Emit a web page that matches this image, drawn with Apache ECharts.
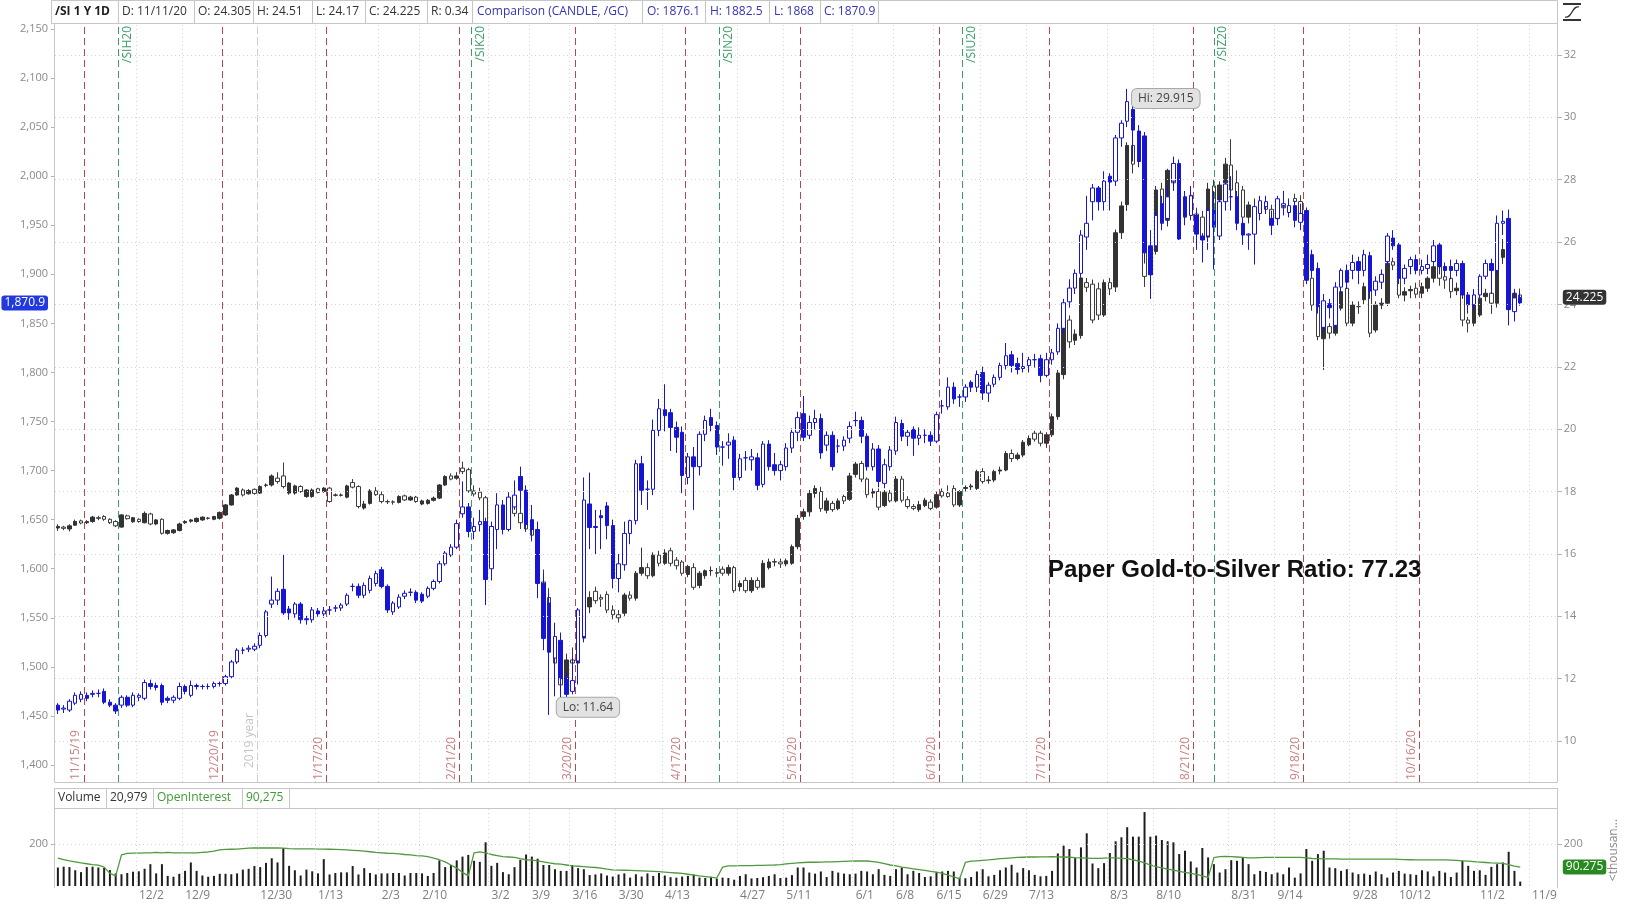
<!DOCTYPE html>
<html><head><meta charset="utf-8">
<script src="https://cdn.jsdelivr.net/npm/echarts@6/dist/echarts.min.js"></script>
<style>html,body{margin:0;padding:0;background:#fff;}#c{width:1625px;height:909px;}</style>
</head><body><div id="c"></div>
<script>
// ---------- DATA ----------
const dates = [
'11/11/19','11/12/19','11/13/19','11/14/19','11/15/19','11/18/19','11/19/19','11/20/19','11/21/19','11/22/19','11/25/19','11/26/19','11/27/19','11/29/19',
'12/2/19','12/3/19','12/4/19','12/5/19','12/6/19','12/9/19','12/10/19','12/11/19','12/12/19','12/13/19','12/16/19','12/17/19','12/18/19','12/19/19','12/20/19','12/23/19','12/24/19','12/26/19','12/27/19','12/30/19','12/31/19',
'1/2/20','1/3/20','1/6/20','1/7/20','1/8/20','1/9/20','1/10/20','1/13/20','1/14/20','1/15/20','1/16/20','1/17/20','1/21/20','1/22/20','1/23/20','1/24/20','1/27/20','1/28/20','1/29/20','1/30/20','1/31/20',
'2/3/20','2/4/20','2/5/20','2/6/20','2/7/20','2/10/20','2/11/20','2/12/20','2/13/20','2/14/20','2/18/20','2/19/20','2/20/20','2/21/20','2/24/20','2/25/20','2/26/20','2/27/20','2/28/20',
'3/2/20','3/3/20','3/4/20','3/5/20','3/6/20','3/9/20','3/10/20','3/11/20','3/12/20','3/13/20','3/16/20','3/17/20','3/18/20','3/19/20','3/20/20','3/23/20','3/24/20','3/25/20','3/26/20','3/27/20','3/30/20','3/31/20',
'4/1/20','4/2/20','4/3/20','4/6/20','4/7/20','4/8/20','4/9/20','4/13/20','4/14/20','4/15/20','4/16/20','4/17/20','4/20/20','4/21/20','4/22/20','4/23/20','4/24/20','4/27/20','4/28/20','4/29/20','4/30/20',
'5/1/20','5/4/20','5/5/20','5/6/20','5/7/20','5/8/20','5/11/20','5/12/20','5/13/20','5/14/20','5/15/20','5/18/20','5/19/20','5/20/20','5/21/20','5/22/20','5/26/20','5/27/20','5/28/20','5/29/20',
'6/1/20','6/2/20','6/3/20','6/4/20','6/5/20','6/8/20','6/9/20','6/10/20','6/11/20','6/12/20','6/15/20','6/16/20','6/17/20','6/18/20','6/19/20','6/22/20','6/23/20','6/24/20','6/25/20','6/26/20','6/29/20','6/30/20',
'7/1/20','7/2/20','7/6/20','7/7/20','7/8/20','7/9/20','7/10/20','7/13/20','7/14/20','7/15/20','7/16/20','7/17/20','7/20/20','7/21/20','7/22/20','7/23/20','7/24/20','7/27/20','7/28/20','7/29/20','7/30/20','7/31/20',
'8/3/20','8/4/20','8/5/20','8/6/20','8/7/20','8/10/20','8/11/20','8/12/20','8/13/20','8/14/20','8/17/20','8/18/20','8/19/20','8/20/20','8/21/20','8/24/20','8/25/20','8/26/20','8/27/20','8/28/20','8/31/20',
'9/1/20','9/2/20','9/3/20','9/4/20','9/8/20','9/9/20','9/10/20','9/11/20','9/14/20','9/15/20','9/16/20','9/17/20','9/18/20','9/21/20','9/22/20','9/23/20','9/24/20','9/25/20','9/28/20','9/29/20','9/30/20',
'10/1/20','10/2/20','10/5/20','10/6/20','10/7/20','10/8/20','10/9/20','10/12/20','10/13/20','10/14/20','10/15/20','10/16/20','10/19/20','10/20/20','10/21/20','10/22/20','10/23/20','10/26/20','10/27/20','10/28/20','10/29/20','10/30/20',
'11/2/20','11/3/20','11/4/20','11/5/20','11/6/20','11/9/20','11/10/20','11/11/20'
];
// /SI silver  [open, high, low, close]
const silver = [
[16.83,16.95,16.74,16.88],[16.86,16.90,16.76,16.82],[16.80,16.95,16.72,16.90],[16.92,17.10,16.90,17.04],[17.06,17.10,16.95,16.99],
[17.00,17.08,16.96,17.04],[17.04,17.22,17.00,17.18],[17.16,17.22,17.08,17.14],[17.20,17.24,17.06,17.11],[17.11,17.14,16.96,17.00],
[17.04,17.08,16.86,16.90],[16.86,17.28,16.84,17.25],[17.22,17.26,17.10,17.13],[17.03,17.18,17.00,17.16],[17.11,17.14,17.00,17.04],
[17.00,17.36,16.98,17.30],[17.28,17.32,16.92,16.96],[16.96,17.12,16.92,17.09],[17.11,17.14,16.62,16.66],[16.66,16.78,16.62,16.75],
[16.68,16.80,16.64,16.77],[16.75,17.00,16.72,16.96],[17.00,17.08,16.96,17.04],[17.05,17.12,17.00,17.09],[17.04,17.17,17.00,17.14],
[17.09,17.20,17.06,17.18],[17.15,17.18,17.10,17.14],[17.11,17.22,17.08,17.20],[17.14,17.36,17.10,17.33],[17.25,17.60,17.22,17.57],
[17.57,17.92,17.55,17.89],[17.89,18.14,17.86,18.11],[18.05,18.10,17.84,17.89],[17.93,18.08,17.90,18.03],[18.07,18.10,17.90,17.94],
[17.95,18.20,17.92,18.16],[18.20,18.26,18.14,18.21],[18.21,18.55,18.16,18.50],[18.43,18.62,18.25,18.32],[18.50,18.93,18.10,18.16],
[17.95,18.30,17.90,18.27],[17.95,18.22,17.90,18.18],[18.16,18.20,17.96,18.00],[17.84,18.08,17.80,18.05],[17.84,18.10,17.80,18.05],
[18.09,18.12,17.94,17.97],[18.00,18.14,17.96,18.11],[18.11,18.14,17.64,17.68],[17.88,17.94,17.84,17.89],[17.88,17.94,17.84,17.89],
[17.82,18.22,17.78,18.18],[18.29,18.40,18.10,18.14],[18.16,18.20,17.46,17.52],[17.47,17.70,17.42,17.60],[17.62,18.08,17.58,18.02],
[18.02,18.14,17.86,17.90],[17.90,18.00,17.62,17.68],[17.68,17.74,17.60,17.67],[17.67,17.72,17.58,17.66],[17.65,17.88,17.62,17.84],
[17.86,17.90,17.70,17.73],[17.73,17.86,17.70,17.82],[17.82,17.86,17.64,17.68],[17.60,17.74,17.56,17.70],[17.62,17.76,17.58,17.72],
[17.72,17.84,17.68,17.79],[17.79,18.24,17.76,18.21],[18.21,18.52,18.18,18.48],[18.50,18.58,18.36,18.40],[18.43,18.62,18.38,18.50],
[18.75,18.96,18.56,18.64],[18.70,18.76,17.96,18.02],[18.02,18.20,17.84,17.92],[17.98,18.12,17.72,17.80],[17.80,17.86,16.30,16.50],
[16.50,17.00,16.40,16.88],[16.88,17.40,16.80,17.30],[17.30,17.40,17.00,17.10],[17.10,17.70,17.05,17.55],[17.55,17.86,17.20,17.30],
[17.30,17.94,16.80,17.00],[17.00,17.30,16.70,16.80],[16.80,16.90,16.40,16.60],[16.60,16.70,14.90,15.10],[15.10,15.50,14.40,14.60],
[14.60,14.90,12.80,13.00],[13.00,13.30,12.20,12.50],[12.50,12.70,11.64,11.80],[11.80,12.80,11.70,12.60],[12.60,13.00,12.10,12.50],
[12.50,13.40,12.30,13.30],[13.30,14.40,13.20,14.30],[14.30,14.80,14.10,14.60],[14.80,14.95,14.40,14.50],[14.60,14.70,14.30,14.55],
[14.70,14.80,14.10,14.20],[14.20,14.35,13.90,14.05],[14.05,14.20,13.80,13.95],[14.10,14.75,14.00,14.68],[14.68,14.80,14.50,14.58],
[14.58,15.45,14.50,15.38],[15.38,16.20,15.30,15.56],[15.56,15.70,15.20,15.30],[15.30,16.05,15.25,15.96],[15.96,16.10,15.60,15.70],
[15.70,16.15,15.65,16.03],[16.10,16.20,15.60,15.70],[15.80,15.90,15.50,15.62],[15.74,15.80,15.30,15.38],[15.34,15.65,15.25,15.60],
[15.56,15.70,14.85,14.93],[14.99,15.45,14.90,15.38],[15.30,15.50,15.20,15.46],[15.46,15.60,15.30,15.47],[15.40,15.55,15.25,15.38],
[15.51,15.60,15.30,15.38],[15.38,15.65,15.30,15.56],[15.56,15.62,14.75,14.82],[14.95,15.15,14.80,15.05],[15.15,15.25,14.75,14.82],
[14.82,15.25,14.75,15.15],[15.15,15.25,14.85,14.93],[14.93,15.80,14.90,15.70],[15.56,15.85,15.50,15.74],[15.74,15.85,15.60,15.75],
[15.74,15.85,15.55,15.68],[15.68,15.85,15.60,15.78],[15.70,16.30,15.65,16.23],[16.23,17.25,16.15,17.14],[17.20,17.45,17.10,17.35],
[17.35,18.05,17.20,17.94],[17.94,18.20,17.80,18.10],[18.00,18.15,17.35,17.45],[17.40,17.80,17.30,17.70],[17.62,17.70,17.35,17.42],
[17.45,17.78,17.40,17.70],[17.84,17.90,17.60,17.70],[17.75,18.60,17.70,18.50],[18.55,18.95,18.45,18.88],[18.90,18.98,18.30,18.40],
[18.40,18.45,17.80,17.90],[17.95,18.10,17.80,18.00],[18.00,18.10,17.40,17.50],[17.55,18.05,17.50,17.98],[17.95,18.05,17.65,17.70],
[17.70,18.50,17.65,18.40],[18.40,18.50,17.65,17.72],[17.74,17.85,17.45,17.52],[17.52,17.60,17.40,17.46],[17.42,17.70,17.35,17.58],
[17.55,17.80,17.50,17.72],[17.66,17.75,17.40,17.46],[17.50,18.00,17.45,17.90],[18.00,18.10,17.80,17.86],[17.95,18.20,17.80,17.84],
[18.10,18.20,17.50,17.57],[17.57,18.05,17.50,18.00],[18.10,18.20,18.00,18.13],[18.15,18.25,18.05,18.18],[18.10,18.70,18.05,18.64],
[18.64,18.75,18.25,18.32],[18.35,18.50,18.25,18.37],[18.37,18.70,18.30,18.64],[18.66,18.80,18.55,18.69],[18.69,19.30,18.65,19.22],
[19.22,19.35,18.95,19.06],[19.06,19.25,19.00,19.17],[19.17,19.65,19.10,19.58],[19.50,19.80,19.45,19.70],[19.87,19.95,19.60,19.68],
[19.87,19.95,19.45,19.55],[19.55,19.90,19.40,19.82],[19.82,20.50,19.75,20.40],[20.40,21.90,20.30,21.80],[21.75,23.50,21.60,23.45],
[23.50,23.65,22.60,22.80],[22.85,23.20,22.70,23.05],[23.00,24.95,22.90,24.85],[24.70,24.85,24.40,24.55],[24.65,24.80,23.40,23.50],
[24.50,24.70,23.50,23.66],[23.66,24.80,23.60,24.70],[24.70,24.85,24.30,24.50],[24.56,26.40,24.40,26.30],[26.30,27.30,26.10,27.16],
[27.20,29.20,27.00,29.10],[29.10,29.915,28.20,28.50],[28.60,29.70,28.40,29.00],[29.00,29.10,24.56,24.90],[24.95,26.00,24.80,25.85],
[25.70,27.80,25.60,27.67],[27.70,27.90,26.40,26.60],[26.70,28.35,26.50,28.30],[28.30,28.55,27.70,27.90],[27.90,28.00,26.60,26.80],
[26.80,27.50,26.60,27.40],[27.50,27.70,26.90,27.00],[26.90,27.10,26.30,26.45],[26.80,27.00,25.90,26.10],[26.16,27.90,26.00,27.70],
[27.80,28.00,26.80,26.97],[27.35,27.95,27.20,27.83],[27.90,28.70,27.80,28.50],[28.47,29.30,27.50,27.67],[27.90,28.30,27.30,27.40],
[27.67,27.80,26.60,26.80],[26.80,27.30,26.60,27.19],[27.10,27.40,26.70,26.90],[26.95,27.40,26.80,27.20],[27.20,27.40,26.90,27.05],
[27.05,27.20,26.60,26.75],[26.75,27.30,26.60,27.20],[27.15,27.35,26.90,27.10],[27.10,27.40,26.95,27.12],[27.40,27.55,27.10,27.30],
[27.30,27.50,26.70,26.90],[26.95,27.10,24.70,24.85],[24.84,25.10,23.80,23.98],[23.98,24.10,22.85,22.97],[22.90,23.35,21.90,23.29],
[23.29,23.40,22.90,23.08],[23.08,24.00,23.00,23.88],[23.88,24.50,23.80,24.41],[24.52,24.80,23.30,23.40],[23.40,24.10,23.30,23.98],
[23.93,24.10,23.70,23.93],[24.15,24.70,24.00,24.57],[24.46,24.60,22.95,23.08],[23.18,24.10,23.10,23.98],[23.98,24.20,23.85,24.04],
[24.04,25.40,23.95,25.32],[25.37,25.50,25.10,25.26],[25.20,25.30,24.20,24.30],[24.30,24.55,24.10,24.41],[24.44,24.60,24.20,24.48],
[24.52,24.70,24.20,24.33],[24.36,24.70,24.20,24.57],[24.52,24.90,24.40,24.84],[24.84,25.40,24.70,25.21],[25.21,25.30,24.60,24.84],
[24.89,25.00,24.50,24.78],[24.84,24.95,24.20,24.41],[24.44,24.70,24.30,24.52],[24.36,24.50,23.30,23.50],[23.50,23.60,23.10,23.40],
[23.40,24.30,23.30,24.20],[23.66,24.40,23.60,24.20],[24.25,24.50,24.10,24.36],[24.36,24.60,23.70,24.04],[24.04,25.70,23.90,25.58],
[25.51,26.10,25.30,25.76],[25.80,26.00,23.50,24.00],[23.93,24.50,23.80,24.36],[24.305,24.51,24.17,24.225]
];
// /GC gold comparison  [open, high, low, close]
const gold = [
[1461,1463,1452,1456],[1457,1461,1453,1458],[1456,1467,1454,1465],[1463,1474,1461,1471],[1467,1475,1464,1472],
[1471,1474,1465,1468],[1472,1476,1469,1473],[1473,1477,1469,1473],[1475,1478,1462,1464],[1464,1467,1459,1461],
[1461,1463,1452,1455],[1461,1471,1458,1469],[1469,1471,1459,1461],[1461,1474,1459,1471],[1469,1473,1465,1471],
[1468,1487,1466,1484],[1483,1487,1477,1480],[1481,1484,1476,1479],[1481,1483,1461,1464],[1468,1470,1463,1466],
[1466,1471,1463,1469],[1468,1484,1466,1480],[1480,1482,1472,1475],[1471,1486,1469,1481],[1480,1483,1477,1481],
[1480,1482,1477,1480],[1480,1483,1477,1480],[1480,1485,1478,1483],[1483,1485,1480,1483],[1483,1492,1481,1490],
[1490,1507,1488,1505],[1505,1519,1503,1517],[1517,1520,1513,1517],[1518,1522,1515,1519],[1518,1524,1516,1521],
[1522,1535,1519,1532],[1532,1558,1530,1556],[1564,1592,1560,1568],[1568,1580,1563,1577],[1579,1614,1553,1555],
[1559,1562,1548,1555],[1554,1566,1550,1564],[1564,1566,1544,1548],[1549,1552,1543,1548],[1548,1561,1545,1558],
[1557,1560,1551,1554],[1554,1561,1550,1557],[1558,1562,1553,1558],[1560,1563,1556,1560],[1560,1565,1557,1563],
[1564,1575,1562,1573],[1582,1585,1577,1582],[1582,1585,1570,1573],[1573,1586,1570,1583],[1578,1593,1575,1590],
[1585,1598,1582,1595],[1599,1602,1580,1582],[1582,1584,1555,1558],[1556,1567,1553,1565],[1561,1574,1559,1571],
[1572,1578,1569,1575],[1576,1580,1572,1576],[1576,1578,1565,1568],[1574,1576,1565,1567],[1572,1582,1570,1580],
[1580,1589,1578,1587],[1587,1608,1585,1605],[1605,1618,1603,1616],[1614,1625,1612,1622],[1622,1650,1620,1646],
[1656,1689,1652,1663],[1663,1667,1632,1638],[1638,1652,1630,1643],[1645,1660,1638,1648],[1648,1652,1563,1589],
[1600,1648,1588,1643],[1640,1677,1620,1665],[1665,1670,1635,1640],[1640,1678,1638,1673],[1663,1690,1660,1675],
[1694,1704,1661,1680],[1680,1685,1640,1645],[1650,1665,1630,1640],[1640,1648,1570,1585],[1585,1595,1517,1529],
[1565,1575,1451,1515],[1509,1545,1470,1531],[1527,1535,1468,1488],[1488,1494,1460,1472],[1475,1510,1472,1486],
[1506,1560,1482,1558],[1531,1693,1525,1670],[1666,1698,1620,1642],[1642,1660,1615,1643],[1654,1660,1620,1652],
[1664,1668,1630,1644],[1644,1650,1580,1590],[1590,1615,1576,1605],[1604,1648,1598,1636],[1636,1650,1625,1649],
[1649,1711,1645,1707],[1707,1715,1665,1680],[1681,1690,1660,1681],[1681,1752,1675,1741],[1741,1773,1735,1763],
[1762,1788,1740,1756],[1759,1763,1720,1744],[1744,1750,1718,1734],[1739,1745,1677,1695],[1693,1718,1686,1714],
[1714,1724,1660,1704],[1704,1740,1695,1737],[1737,1756,1730,1751],[1754,1763,1740,1746],[1746,1750,1716,1724],
[1724,1730,1705,1724],[1726,1738,1712,1729],[1731,1735,1680,1693],[1693,1717,1690,1712],[1713,1720,1700,1713],
[1711,1722,1700,1714],[1713,1718,1680,1685],[1686,1730,1683,1727],[1727,1731,1700,1704],[1706,1718,1695,1700],
[1700,1710,1690,1706],[1704,1728,1700,1723],[1723,1743,1718,1739],[1739,1760,1730,1754],[1758,1776,1730,1734],
[1736,1756,1732,1749],[1749,1762,1742,1753],[1753,1758,1712,1718],[1726,1740,1720,1736],[1736,1740,1700,1704],
[1725,1732,1718,1725],[1725,1735,1720,1731],[1733,1750,1728,1745],[1751,1760,1745,1751],[1751,1755,1728,1735],
[1735,1738,1700,1704],[1704,1728,1700,1722],[1722,1726,1683,1689],[1687,1712,1682,1706],[1704,1725,1700,1721],
[1720,1755,1716,1749],[1748,1752,1730,1735],[1735,1742,1725,1739],[1742,1745,1715,1733],[1733,1744,1726,1736],
[1736,1742,1728,1736],[1736,1740,1725,1730],[1730,1760,1728,1757],[1766,1772,1758,1766],[1765,1795,1762,1785],
[1785,1790,1768,1773],[1775,1778,1765,1775],[1775,1788,1770,1785],[1790,1792,1780,1785],[1785,1802,1780,1798],
[1800,1806,1772,1779],[1779,1790,1770,1787],[1788,1798,1785,1795],[1795,1810,1792,1807],[1807,1830,1803,1817],
[1818,1822,1800,1807],[1809,1815,1798,1803],[1804,1820,1800,1806],[1807,1816,1800,1813],[1813,1819,1805,1813],
[1814,1818,1790,1797],[1797,1820,1795,1813],[1813,1824,1808,1820],[1821,1850,1818,1845],[1845,1875,1840,1871],
[1872,1895,1866,1886],[1886,1905,1880,1901],[1901,1945,1898,1940],[1938,1980,1925,1952],[1974,1992,1955,1988],
[1988,1990,1965,1974],[1974,2005,1965,1995],[2000,2003,1965,1994],[1995,2042,1990,2039],[2039,2057,2030,2054],
[2056,2089,2050,2076],[2068,2075,2015,2047],[2046,2052,2010,2015],[2041,2045,1911,1922],[1929,1945,1875,1900],
[1929,1965,1925,1960],[1972,1980,1945,1953],[1957,1990,1950,1979],[1995,2020,1985,2013],[2013,2017,1935,1936],
[1979,1985,1950,1960],[1960,1990,1955,1980],[1960,1965,1925,1941],[1939,1942,1912,1935],[1939,1968,1925,1965],
[1965,1985,1905,1948],[1939,1980,1935,1974],[1974,1995,1965,1992],[1979,2000,1965,1979],[1979,1985,1945,1952],
[1952,1956,1930,1940],[1940,1942,1925,1941],[1941,1975,1910,1969],[1962,1980,1955,1975],[1969,1980,1962,1974],
[1957,1965,1940,1950],[1957,1980,1950,1977],[1970,1985,1960,1972],[1963,1975,1958,1970],[1970,1975,1948,1955],
[1953,1972,1945,1962],[1965,1968,1890,1894],[1920,1925,1898,1904],[1906,1912,1860,1867],[1846,1880,1841,1873],
[1870,1875,1855,1866],[1848,1892,1843,1887],[1887,1906,1880,1904],[1904,1910,1885,1892],[1904,1920,1895,1912],
[1913,1918,1890,1904],[1904,1925,1898,1920],[1919,1923,1875,1883],[1884,1898,1878,1893],[1892,1905,1885,1900],
[1913,1942,1908,1939],[1937,1945,1925,1929],[1930,1932,1890,1896],[1896,1910,1890,1906],[1908,1918,1900,1915],
[1915,1920,1900,1904],[1904,1915,1900,1908],[1906,1920,1900,1910],[1913,1935,1910,1929],[1930,1933,1900,1908],
[1908,1912,1898,1904],[1908,1915,1895,1904],[1904,1915,1898,1911],[1911,1914,1875,1879],[1879,1882,1860,1869],
[1869,1885,1864,1879],[1879,1900,1876,1898],[1898,1915,1895,1911],[1911,1916,1880,1904],[1904,1960,1900,1952],
[1952,1965,1940,1954],[1957,1966,1848,1864],[1862,1883,1852,1876],[1876.1,1882.5,1868,1870.9]
];
// volume, thousands of contracts
const volume = [
88,92,90,75,66,90,92,88,86,76,60,56,62,68,
70,82,104,60,104,48,44,58,72,112,72,50,44,48,58,58,56,60,78,82,95,
90,110,132,112,181,96,75,50,78,70,60,128,55,62,65,65,95,55,85,62,55,
60,60,62,62,50,62,62,60,48,62,122,90,100,122,140,148,120,115,208,
96,110,66,56,90,125,150,140,130,100,100,80,72,72,100,85,80,52,55,60,50,45,
55,60,40,56,45,60,48,62,50,42,40,45,48,55,40,38,42,35,40,38,30,
48,56,36,38,42,48,56,38,40,52,88,
88,64,59,69,43,72,64,59,56,59,72,69,56,80,53,48,80,88,56,72,62,43,46,67,69,72,69,40,37,43,69,80,46,53,75,88,101,64,85,75,53,46,48,72,
155,192,176,133,184,251,107,85,109,157,213,232,280,235,235,352,235,240,219,213,208,152,168,117,88,181,136,104,64,80,123,120,133,104,56,72,67,56,64,56,88,40,60,
176,120,152,168,88,85,72,80,64,56,59,53,69,56,40,64,72,59,56,53,75,69,46,72,64,43,64,120,96,72,75,53,91,104,112,163,72,21
];
// open interest, thousands
const openInterest = [
133,126,120,115,110,106,102,99,90,60,48,148,155,157,
157,158,158,160,158,160,158,158,158,158,158,160,162,166,172,174,175,176,178,180,181,
181,181,181,181,180,178,177,177,177,177,176,176,175,174,173,172,170,168,166,163,160,
158,156,155,153,150,148,145,143,140,133,125,115,100,85,65,48,158,163,158,
150,145,140,138,136,130,125,123,120,115,110,106,104,100,96,94,92,90,88,85,80,77,
76,75,74,73,72,71,70,68,66,64,62,60,56,52,48,45,42,38,90,96,96,
97,97,97,98,98,99,100,102,105,108,110,112,113,113,114,115,115,116,117,118,
119,120,119,116,112,106,100,96,90,86,82,78,74,70,66,60,52,44,34,112,118,120,
122,124,127,130,132,134,136,137,138,138,139,139,140,139,138,137,135,134,133,132,132,133,
134,134,132,130,125,118,110,100,92,86,80,76,70,65,60,55,48,40,135,140,141,
140,138,136,134,134,135,136,136,136,136,136,136,136,134,131,130,129,129,129,128,128,
128,128,128,128,128,128,128,128,127,126,125,124,124,124,124,124,124,123,122,120,118,116,
114,112,110,109,108,102,95,90.275
];
const goldTicks = [1400,1450,1500,1550,1600,1650,1700,1750,1800,1850,1900,1950,2000,2050,2100,2150];
const silverTicks = [10,12,14,16,18,20,22,24,26,28,30,32];
const volTicks = [200];
const dateTickPos  = [14,22,35,45,56,63,75,82,89,97,105,118,126,138,145,152,160,168,182,190,203,211,224,232,246,255];
const dateTickText = ['12/2','12/9','12/30','1/13','2/3','2/10','3/2','3/9','3/16','3/30','4/13','4/27','5/11','6/1','6/8','6/15','6/29','7/13','8/3','8/10','8/31','9/14','9/28','10/12','11/2','11/9'];
const expiries = [[5,'11/15/19'],[29,'12/20/19'],[47,'1/17/20'],[70,'2/21/20'],[90,'3/20/20'],[109,'4/17/20'],[129,'5/15/20'],[153,'6/19/20'],[172,'7/17/20'],[197,'8/21/20'],[216,'9/18/20'],[236,'10/16/20']];
const rolls = [[11,'/SIH20'],[72,'/SIK20'],[115,'/SIN20'],[157,'/SIU20'],[200.5,'/SIZ20']];
const yearMark = [35,'2019 year'];
const hiPoint = [186, 29.915];
const loPoint = [87, 11.64];

// ---------- LAYOUT ----------
const NCAT = 260;
const cats = dates.concat(Array(NCAT - dates.length).fill(''));
const F = '"Open Sans", "DejaVu Sans", sans-serif';
const GL = 55, GW = 1502.8;
const MAIN_T = 23, MAIN_H = 759, VOL_T = 808, VOL_H = 78;
const CLEAR = 'rgba(0,0,0,0)';

const vGrid = dateTickPos.map(v => ({xAxis: v, lineStyle: {color: '#d4d4d4', type: [1, 3], width: 1}, label: {show: false}}));
const hGrid = silverTicks.map(v => ({yAxis: v, lineStyle: {color: '#d4d4d4', type: [1, 3], width: 1}, label: {show: false}}));
const expLines = expiries.map(([v, t]) => ({xAxis: v, lineStyle: {color: '#b4484c', type: [7, 4], width: 1},
  label: {show: true, formatter: t, position: 'insideStartTop', color: '#c98080', fontSize: 12, fontFamily: F, distance: 2}}));
const rollLines = rolls.map(([v, t]) => ({xAxis: v, lineStyle: {color: '#3d9d6a', type: [7, 4], width: 1},
  label: {show: true, formatter: t, position: 'insideEndBottom', color: '#3d9d6a', fontSize: 12, fontFamily: F, distance: 3}}));
const yearLine = {xAxis: yearMark[0], lineStyle: {color: '#cfcfcf', type: [7, 4], width: 1},
  label: {show: true, formatter: yearMark[1], position: 'insideStartTop', color: '#c4c4c4', fontSize: 12, fontFamily: F, distance: 2, padding: [0, 0, 0, 12]}};

const tag = (txt, bg, pos, dist) => ({show: true, formatter: txt, position: pos, distance: dist, backgroundColor: bg, color: '#fff',
  padding: [2, 3, 1, 3], borderRadius: 3, fontSize: 12, fontFamily: F});

const axisLbl = {color: '#8a8a8a', fontSize: 11, fontFamily: F};

const option = {
  animation: false,
  backgroundColor: '#ffffff',
  grid: [
    {left: GL, top: MAIN_T, width: GW, height: MAIN_H},
    {left: GL, top: VOL_T, width: GW, height: VOL_H}
  ],
  xAxis: [
    {type: 'category', gridIndex: 0, position: 'bottom', data: cats, show: false},
    {type: 'value', gridIndex: 0, position: 'top', min: 0, max: NCAT, show: false},
    {type: 'category', gridIndex: 1, position: 'top', data: cats, show: false},
    {type: 'value', gridIndex: 1, position: 'bottom', min: 0, max: NCAT, axisLine: {show: false, onZero: false}, axisTick: {show: false}, splitLine: {show: false},
     axisLabel: {customValues: dateTickPos, formatter: v => dateTickText[dateTickPos.indexOf(v)], align: 'left', padding: [0, 0, 0, 3],
       color: '#7d7d7d', fontSize: 12, fontFamily: F, margin: 4}}
  ],
  yAxis: [
    {type: 'value', gridIndex: 0, position: 'left', min: 1382.68, max: 2156.11, axisLine: {show: false}, splitLine: {show: false},
     axisTick: {show: true, customValues: goldTicks, length: 4, lineStyle: {color: '#b0b0b0'}},
     axisLabel: Object.assign({customValues: goldTicks, margin: 7, formatter: v => v.toLocaleString('en-US')}, axisLbl)},
    {type: 'value', gridIndex: 0, position: 'right', min: 8.685, max: 33.026, axisLine: {show: false}, splitLine: {show: false},
     axisTick: {show: true, customValues: silverTicks, length: 4, lineStyle: {color: '#b0b0b0'}},
     axisLabel: Object.assign({customValues: silverTicks, margin: 6}, axisLbl)},
    {type: 'value', gridIndex: 1, position: 'left', min: 0, max: 371.4, axisLine: {show: false}, splitLine: {show: false},
     axisTick: {show: true, customValues: volTicks, length: 4, lineStyle: {color: '#b0b0b0'}},
     axisLabel: Object.assign({customValues: volTicks, margin: 7}, axisLbl)},
    {type: 'value', gridIndex: 1, position: 'right', min: 0, max: 371.4, axisLine: {show: false}, splitLine: {show: false},
     axisTick: {show: true, customValues: volTicks, length: 4, lineStyle: {color: '#b0b0b0'}},
     axisLabel: Object.assign({customValues: volTicks, margin: 6}, axisLbl)}
  ],
  series: [
    {type: 'scatter', xAxisIndex: 1, yAxisIndex: 1, data: [[0, 20]], symbolSize: 0, silent: true, z: 1,
     markLine: {silent: true, symbol: ['none', 'none'], animation: false, data: [...vGrid, ...hGrid, yearLine, ...expLines, ...rollLines]}},
    {name: '/SI', type: 'candlestick', xAxisIndex: 0, yAxisIndex: 1, z: 3,
     data: silver.map(d => [d[0], d[3], d[2], d[1]]), barWidth: 4,
     itemStyle: {color: '#333333', color0: '#ffffff', borderColor: '#333333', borderColor0: '#3c3c3c', borderWidth: 1},
     markPoint: {symbol: 'rect', symbolSize: 0, silent: true, data: [
       {coord: hiPoint, label: {show: true, formatter: 'Hi: ' + hiPoint[1], position: [-1, -31], backgroundColor: '#e2e2e2', borderColor: '#a8a8a8', borderWidth: 1,
         borderRadius: 5, padding: [4, 6, 3, 6], color: '#444', fontSize: 12, fontFamily: F}},
       {coord: loPoint, label: {show: true, formatter: 'Lo: ' + loPoint[1], position: [-4, 8], backgroundColor: '#e2e2e2', borderColor: '#a8a8a8', borderWidth: 1,
         borderRadius: 5, padding: [4, 6, 3, 6], color: '#444', fontSize: 12, fontFamily: F}}
     ]},
     markLine: {silent: true, symbol: ['none', 'none'], data: [{yAxis: silver[silver.length - 1][3], lineStyle: {color: CLEAR, width: 0}, label: tag('24.225', '#333333', 'end', 5)}]}},
    {name: '/GC', type: 'candlestick', xAxisIndex: 0, yAxisIndex: 0, z: 4,
     data: gold.map(d => [d[0], d[3], d[2], d[1]]), barWidth: 4,
     itemStyle: {color: '#ffffff', color0: '#1515d2', borderColor: '#1515d2', borderColor0: '#1515d2', borderWidth: 1},
     markLine: {silent: true, symbol: ['none', 'none'], data: [{yAxis: gold[gold.length - 1][3], lineStyle: {color: CLEAR, width: 0}, label: tag('1,870.9', '#2238e0', 'start', 7)}]}},
    {type: 'scatter', xAxisIndex: 3, yAxisIndex: 2, data: [[0, 50]], symbolSize: 0, silent: true, z: 1,
     markLine: {silent: true, symbol: ['none', 'none'], data: [
       ...dateTickPos.map(v => ({xAxis: v, lineStyle: {color: '#d4d4d4', type: [1, 3], width: 1}, label: {show: false}})),
       {yAxis: 200, lineStyle: {color: '#d4d4d4', type: [1, 3], width: 1}, label: {show: false}}]}},
    {name: 'Volume', type: 'bar', xAxisIndex: 2, yAxisIndex: 2, data: volume, barWidth: 2, itemStyle: {color: '#1e1e1e'}, z: 3},
    {name: 'OpenInterest', type: 'line', xAxisIndex: 2, yAxisIndex: 2, data: openInterest, showSymbol: false, symbol: 'none', z: 4,
     lineStyle: {color: '#4e9a3c', width: 1.3},
     markLine: {silent: true, symbol: ['none', 'none'], data: [{yAxis: openInterest[openInterest.length - 1], lineStyle: {color: CLEAR, width: 0}, label: tag('90.275', '#2a8a22', 'end', 5)}]}}
  ],
  graphic: []
};

// ---------- STATIC FRAME / HEADER (layout only) ----------
const G = option.graphic;
const frame = (x, y, w, h) => G.push({type: 'rect', silent: true, z: 50, shape: {x: x + 0.5, y: y + 0.5, width: w, height: h}, style: {fill: 'none', stroke: '#c6c6c6', lineWidth: 1}});
const seg = (x1, y1, x2, y2) => G.push({type: 'line', silent: true, z: 50, shape: {x1: x1, y1: y1, x2: x2, y2: y2}, style: {stroke: '#c6c6c6', lineWidth: 1}});
const vsep = (x, y1, y2) => seg(x + 0.5, y1, x + 0.5, y2);
const txt = (s, x, y, fill, weight, size, extra) => G.push({type: 'text', silent: true, z: 60, x: x, y: y, rotation: (extra && extra.rotation) || 0,
  style: {text: s, fill: fill, font: (weight || 'normal') + ' ' + (size || 12) + 'px ' + ((extra && extra.family) || F), textAlign: (extra && extra.align) || 'left', textVerticalAlign: 'middle'}});

// main header
frame(51, 0, 1506, 23);
[118, 194, 253, 312, 365, 427, 472, 642, 705, 769, 820, 878].forEach(x => vsep(x, 1, 23));
const hdr = [['/SI 1 Y 1D', 55, '#1e1e1e', 'bold'], ['D: 11/11/20', 122], ['O: 24.305', 198], ['H: 24.51', 257], ['L: 24.17', 316], ['C: 24.225', 369], ['R: 0.34', 431],
  ['Comparison (CANDLE, /GC)', 477, '#3434b4'], ['O: 1876.1', 647, '#3434b4'], ['H: 1882.5', 710, '#3434b4'], ['L: 1868', 774, '#3434b4'], ['C: 1870.9', 824, '#3434b4']];
hdr.forEach(h => txt(h[0], h[1], 12, h[2] || '#333', h[3], 12));
// icon top-right
G.push({type: 'polyline', silent: true, z: 60, shape: {points: [[1563, 4], [1581, 4]]}, style: {stroke: '#333', lineWidth: 2}});
G.push({type: 'polyline', silent: true, z: 60, shape: {points: [[1563, 20], [1581, 20]]}, style: {stroke: '#333', lineWidth: 2}});
G.push({type: 'bezierCurve', silent: true, z: 60, shape: {x1: 1565, y1: 17, x2: 1579, y2: 7, cpx1: 1572, cpy1: 19, cpx2: 1572, cpy2: 5}, style: {stroke: '#333', lineWidth: 1.3, fill: 'none'}});
// main pane frame
frame(54, 23, 1503, 759);
// volume header + pane (no bottom edge)
seg(54, 788.5, 1557, 788.5);
seg(54, 808.5, 1557, 808.5);
seg(54.5, 788, 54.5, 888);
seg(1557.5, 788, 1557.5, 888);
[106, 153, 242, 289].forEach(x => vsep(x, 789, 808));
txt('Volume', 58, 798, '#333'); txt('20,979', 110, 798, '#333'); txt('OpenInterest', 157, 798, '#3f9a35'); txt('90,275', 246, 798, '#3f9a35');
// unit caption
txt('<thousan...', 1614, 850, '#8a8a8a', 'normal', 12, {rotation: Math.PI / 2, align: 'center'});
// annotation
txt('Paper Gold-to-Silver Ratio: 77.23', 1048, 570, '#111', 'bold', 24, {family: '"Liberation Sans", Arial, sans-serif'});

const chart = echarts.init(document.getElementById('c'), null, {renderer: 'canvas'});
chart.setOption(option);
</script>
</body></html>
